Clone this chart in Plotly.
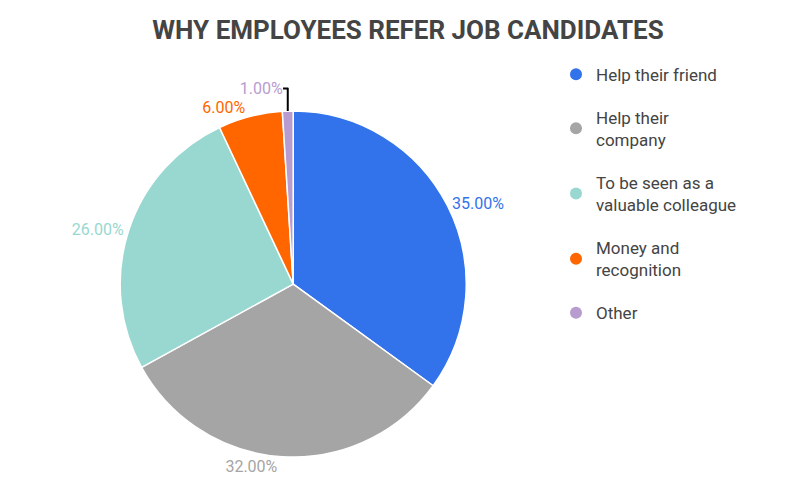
import plotly.graph_objects as go

labels = ["Help their friend", "Help their company", "To be seen as a valuable colleague", "Money and recognition", "Other"]
legend_names = ["Help their friend", "Help their<br>company", "To be seen as a<br>valuable colleague", "Money and<br>recognition", "Other"]
values = [35, 32, 26, 6, 1]
colors = ["#3273EB", "#A5A5A5", "#98D8D0", "#FF6600", "#B89CD0"]

fig = go.Figure()
fig.add_trace(go.Pie(
    labels=labels, values=values, sort=False, direction="clockwise", rotation=0,
    marker=dict(colors=colors, line=dict(color="white", width=1.5)),
    texttemplate="%{value:.2f}%", textposition="outside",
    outsidetextfont=dict(color=colors, size=16, family="Roboto"),
    showlegend=False, domain=dict(x=[0.14, 0.573], y=[0.076, 0.788]),
    hoverinfo="label+percent",
))
for i, (n, c) in enumerate(zip(legend_names, colors)):
    fig.add_trace(go.Scatter(x=[None], y=[None], mode="markers", name=n, legendgroup=f"g{i}",
                             marker=dict(symbol="circle", size=20, color=c)))
fig.update_layout(
    width=800, height=486, margin=dict(l=0, r=0, t=0, b=0),
    paper_bgcolor="white", plot_bgcolor="white",
    title=dict(text="<b>WHY EMPLOYEES REFER JOB CANDIDATES</b>", x=0.5, xanchor="center",
               y=0.955, yanchor="middle", font=dict(size=26, color="#444", family="Roboto")),
    xaxis=dict(visible=False), yaxis=dict(visible=False),
    legend=dict(x=0.685, y=0.9, xanchor="left", yanchor="top",
                font=dict(size=17, color="#444", family="Roboto"), tracegroupgap=18,
                itemsizing="constant"),
    font=dict(family="Roboto"),
)
fig.write_html("out.html")
